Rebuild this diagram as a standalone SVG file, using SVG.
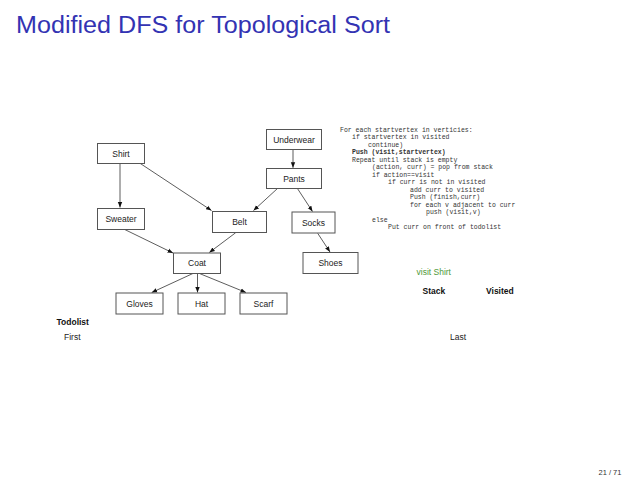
<svg xmlns="http://www.w3.org/2000/svg" width="640" height="480" viewBox="0 0 640 480">
<defs>
<marker id="ah" markerWidth="6" markerHeight="6" refX="5.5" refY="3" orient="auto" markerUnits="userSpaceOnUse">
<path d="M0,0.8 L5.5,3 L0,5.2 z" fill="#111"/>
</marker>
<style>
.box{fill:#fff;stroke:#555;stroke-width:1}
.lbl{font-family:"Liberation Sans",Arial,sans-serif;font-size:8.5px;fill:#222;text-anchor:middle}
.edge{stroke:#333;stroke-width:0.8;fill:none;marker-end:url(#ah)}
.code{font-family:"Liberation Mono","Courier New",monospace;font-size:6.5px;fill:#333;white-space:pre}
.txt{font-family:"Liberation Sans",Arial,sans-serif;font-size:8.5px;fill:#222}
</style>
</defs>
<rect width="640" height="480" fill="#fff"/>
<text x="16" y="33.3" font-family="'Liberation Sans',Arial,sans-serif" font-size="23.5" fill="#3333b3" textLength="374" lengthAdjust="spacingAndGlyphs">Modified DFS for Topological Sort</text>

<g id="connectors">
<line class="edge" x1="120" y1="163.3" x2="120" y2="207.5"/>
<line class="edge" x1="140" y1="163.3" x2="211.5" y2="210.5"/>
<line class="edge" x1="293" y1="149.3" x2="293" y2="167.8"/>
<line class="edge" x1="277.7" y1="188.3" x2="253.5" y2="210.5"/>
<line class="edge" x1="297.3" y1="188.3" x2="312.5" y2="211.5"/>
<line class="edge" x1="317.7" y1="233.3" x2="330" y2="252"/>
<line class="edge" x1="124.3" y1="229.3" x2="173" y2="253"/>
<line class="edge" x1="235.7" y1="232.7" x2="209.3" y2="252.5"/>
<line class="edge" x1="193.3" y1="273.3" x2="151.7" y2="292.5"/>
<line class="edge" x1="197.5" y1="273.3" x2="197.5" y2="292.5"/>
<line class="edge" x1="199" y1="273.3" x2="246" y2="292.5"/>
</g>

<g id="shirt"><rect class="box" x="97.5" y="143.5" width="47" height="20"/><text class="lbl" x="121" y="156.5">Shirt</text></g>
<g id="underwear"><rect class="box" x="266.5" y="129.5" width="55" height="20"/><text class="lbl" x="294" y="142.5">Underwear</text></g>
<g id="pants"><rect class="box" x="266.5" y="168.5" width="55" height="20"/><text class="lbl" x="294" y="181.5">Pants</text></g>
<g id="sweater"><rect class="box" x="97.5" y="208.5" width="47" height="21"/><text class="lbl" x="121" y="221.5">Sweater</text></g>
<g id="belt"><rect class="box" x="212.5" y="211.5" width="54" height="21"/><text class="lbl" x="239.5" y="225">Belt</text></g>
<g id="socks"><rect class="box" x="292" y="212" width="43" height="21"/><text class="lbl" x="313.5" y="225.5">Socks</text></g>
<g id="coat"><rect class="box" x="173.5" y="253" width="47" height="20.5"/><text class="lbl" x="197" y="266">Coat</text></g>
<g id="shoes"><rect class="box" x="303" y="252.5" width="55" height="21"/><text class="lbl" x="330.5" y="266">Shoes</text></g>
<g id="gloves"><rect class="box" x="116" y="293" width="47" height="21"/><text class="lbl" x="139.5" y="306.5">Gloves</text></g>
<g id="hat"><rect class="box" x="178" y="293" width="47" height="21"/><text class="lbl" x="201.5" y="306.5">Hat</text></g>
<g id="scarf"><rect class="box" x="240" y="293" width="47" height="21"/><text class="lbl" x="263.5" y="306.5">Scarf</text></g>

<g id="code">
<text class="code" x="340" y="131.8">For each startvertex in verticies:</text>
<text class="code" x="352" y="139.3">if startvertex in visited</text>
<text class="code" x="368" y="146.8">continue)</text>
<text class="code" x="352" y="154.3" font-weight="bold" fill="#000">Push (visit,startvertex)</text>
<text class="code" x="352" y="161.8">Repeat until stack is empty</text>
<text class="code" x="372" y="169.3">(action, curr) = pop from stack</text>
<text class="code" x="372" y="176.8">if action==visit</text>
<text class="code" x="388" y="184.3">if curr is not in visited</text>
<text class="code" x="410" y="191.8">add curr to visited</text>
<text class="code" x="410" y="199.3">Push (finish,curr)</text>
<text class="code" x="410" y="206.8">for each v adjacent to curr</text>
<text class="code" x="426" y="214.3">push (visit,v)</text>
<text class="code" x="372" y="221.8">else</text>
<text class="code" x="388" y="229.3">Put curr on front of todolist</text>
</g>

<text class="txt" x="416.5" y="275.3" fill="#4f9a3a" style="fill:#4f9a3a">visit Shirt</text>
<text class="txt" x="422.5" y="293.7" font-weight="bold" style="fill:#111">Stack</text>
<text class="txt" x="486" y="293.7" font-weight="bold" style="fill:#111">Visited</text>
<text class="txt" x="56.5" y="324.7" font-weight="bold" style="fill:#111">Todolist</text>
<text class="txt" x="64" y="339.7">First</text>
<text class="txt" x="450" y="339.7">Last</text>
<text x="598.5" y="474.5" font-family="'Liberation Sans',Arial,sans-serif" font-size="7.5" fill="#333">21 / 71</text>
</svg>
